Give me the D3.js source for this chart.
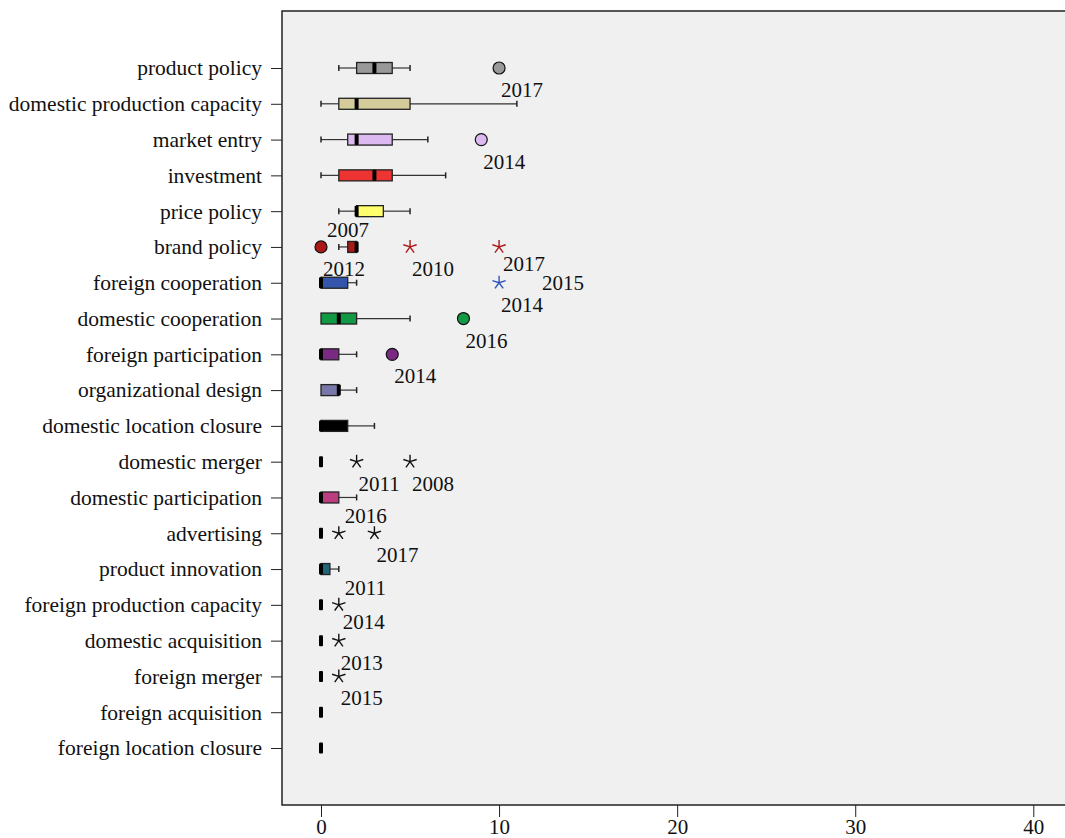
<!DOCTYPE html>
<html>
<head>
<meta charset="utf-8">
<script src="https://cdn.jsdelivr.net/npm/d3@7"></script>
<style>
  body { margin: 0; background: #fff; }
  svg text { font-family: "Liberation Serif", "Times New Roman", serif; fill: #111; }
</style>
</head>
<body>
<div id="chart"></div>
<script>
// categories, top to bottom
const categories = [
  "product policy", "domestic production capacity", "market entry", "investment",
  "price policy", "brand policy", "foreign cooperation", "domestic cooperation",
  "foreign participation", "organizational design", "domestic location closure",
  "domestic merger", "domestic participation", "advertising", "product innovation",
  "foreign production capacity", "domestic acquisition", "foreign merger",
  "foreign acquisition", "foreign location closure"
];
// box statistics
const whiskerLow  = [1, 0, 0,   0, 1,   1,   0,   0, 0, 0, 0,   0, 0, 0, 0,   0, 0, 0, 0, 0];
const q1          = [2, 1, 1.5, 1, 2,   1.5, 0,   0, 0, 0, 0,   0, 0, 0, 0,   0, 0, 0, 0, 0];
const median      = [3, 2, 2,   3, 2,   2,   0,   1, 0, 1, 0,   0, 0, 0, 0,   0, 0, 0, 0, 0];
const q3          = [4, 5, 4,   4, 3.5, 2,   1.5, 2, 1, 1, 1.5, 0, 1, 0, 0.5, 0, 0, 0, 0, 0];
const whiskerHigh = [5, 11, 6,  7, 5,   2,   2,   5, 2, 2, 3,   0, 2, 0, 1,   0, 0, 0, 0, 0];

// outliers (circle) and extremes (star) with year labels
const outliers = [
  {cat: "product policy", value: 10, kind: "circle", labels: [["2017", "below"]]},
  {cat: "market entry", value: 9, kind: "circle", labels: [["2014", "below"]]},
  {cat: "brand policy", value: 0, kind: "circle", labels: [["2007", "above"], ["2012", "below"]]},
  {cat: "brand policy", value: 5, kind: "star", labels: [["2010", "below"]]},
  {cat: "brand policy", value: 10, kind: "star", labels: [["2017", "near"]]},
  {cat: "foreign cooperation", value: 10, kind: "star", labels: [["2014", "below"], ["2015", "right"]]},
  {cat: "domestic cooperation", value: 8, kind: "circle", labels: [["2016", "below"]]},
  {cat: "foreign participation", value: 4, kind: "circle", labels: [["2014", "below"]]},
  {cat: "domestic merger", value: 2, kind: "star", labels: [["2011", "below"]]},
  {cat: "domestic merger", value: 5, kind: "star", labels: [["2008", "below"]]},
  {cat: "advertising", value: 1, kind: "star", labels: [["2016", "above"]]},
  {cat: "advertising", value: 3, kind: "star", labels: [["2017", "below"]]},
  {cat: "foreign production capacity", value: 1, kind: "star", labels: [["2011", "above"], ["2014", "near"]]},
  {cat: "domestic acquisition", value: 1, kind: "star", labels: [["2013", "below"]]},
  {cat: "foreign merger", value: 1, kind: "star", labels: [["2015", "below"]]}
];
const xTicks = [0, 10, 20, 30, 40];

// styles
const boxColors = ["#999999", "#d4cc9a", "#dcb9f0", "#ee3333", "#ffff6e", "#aa1818",
  "#3355aa", "#119944", "#7a2a82", "#7777aa", "#000000", "#000000", "#bb3d80",
  "#000000", "#226677", "#000000", "#000000", "#000000", "#000000", "#000000"];
const markColor = {"brand policy": "#aa1818", "foreign cooperation": "#3355bb"};
const labelOffset = {below: [2, 22], near: [4, 17], above: [6, -17], right: [43, 0]};

const W = 1065, H = 838;
const frame = {left: 282, top: 11, bottom: 805};

const svg = d3.select("#chart").append("svg")
  .attr("width", W).attr("height", H);

const x = d3.scaleLinear().domain([0, 40]).range([321, 1033.3]);
const y = d3.scalePoint().domain(categories).range([68, 748]);

svg.append("rect")
  .attr("x", frame.left).attr("y", frame.top)
  .attr("width", 900).attr("height", frame.bottom - frame.top)
  .attr("fill", "#f0f0f0")
  .attr("stroke", "#222").attr("stroke-width", 1.5);

// axes
const xAxis = d3.axisBottom(x).tickValues(xTicks).tickSize(12).tickSizeOuter(0);
const gx = svg.append("g").attr("transform", `translate(0,${frame.bottom})`).call(xAxis);
gx.select(".domain").remove();
gx.selectAll("line").attr("stroke", "#222");
gx.selectAll("text").attr("font-size", 21).attr("y", 14).attr("dy", "0.71em")
  .attr("font-family", "Liberation Serif, serif").attr("fill", "#111");

const yAxis = d3.axisLeft(y).tickSize(11).tickPadding(9).tickSizeOuter(0);
const gy = svg.append("g").attr("transform", `translate(${frame.left},0)`).call(yAxis);
gy.select(".domain").remove();
gy.selectAll("line").attr("stroke", "#222");
gy.selectAll("text").attr("font-size", 21.5)
  .attr("font-family", "Liberation Serif, serif").attr("fill", "#111");

// boxes
const boxH = 11, capH = 5;
const rows = categories.map((c, i) => ({
  cat: c, lo: whiskerLow[i], q1: q1[i], med: median[i], q3: q3[i], hi: whiskerHigh[i], color: boxColors[i]
}));

const g = svg.append("g");
const row = g.selectAll("g.row").data(rows).enter().append("g")
  .attr("transform", d => `translate(0,${y(d.cat)})`);

row.filter(d => d.hi > d.lo).each(function(d) {
  const s = d3.select(this);
  s.append("line").attr("x1", x(d.lo)).attr("x2", x(d.q1)).attr("stroke", "#333").attr("stroke-width", 1.2);
  s.append("line").attr("x1", x(d.q3)).attr("x2", x(d.hi)).attr("stroke", "#333").attr("stroke-width", 1.2);
  if (d.lo < d.q1) s.append("line").attr("x1", x(d.lo)).attr("x2", x(d.lo)).attr("y1", -capH / 2 - 0.5).attr("y2", capH / 2 + 0.5).attr("stroke", "#222").attr("stroke-width", 1.5);
  if (d.hi > d.q3) s.append("line").attr("x1", x(d.hi)).attr("x2", x(d.hi)).attr("y1", -capH / 2 - 0.5).attr("y2", capH / 2 + 0.5).attr("stroke", "#222").attr("stroke-width", 1.5);
});

row.filter(d => d.q3 > d.q1).append("rect")
  .attr("x", d => x(d.q1)).attr("width", d => x(d.q3) - x(d.q1))
  .attr("y", -boxH / 2).attr("height", boxH)
  .attr("fill", d => d.color).attr("stroke", "#222").attr("stroke-width", 1.3);

row.append("rect")
  .attr("x", d => x(d.med) - 2).attr("width", 4)
  .attr("y", -boxH / 2).attr("height", boxH)
  .attr("rx", 1)
  .attr("fill", "#000");

// outliers
const star = (r) => {
  let p = "";
  for (let k = 0; k < 5; k++) {
    const a = -Math.PI / 2 + k * 2 * Math.PI / 5;
    p += `M0,0L${(r * Math.cos(a)).toFixed(2)},${(r * Math.sin(a)).toFixed(2)}`;
  }
  return p;
};

const pts = g.selectAll("g.out").data(outliers).enter().append("g")
  .attr("transform", d => `translate(${x(d.value)},${y(d.cat)})`);

pts.filter(d => d.kind === "circle").append("circle")
  .attr("r", 6)
  .attr("fill", d => boxColors[categories.indexOf(d.cat)])
  .attr("stroke", "#111").attr("stroke-width", 1.2);

pts.filter(d => d.kind === "star").append("path")
  .attr("d", star(7))
  .attr("fill", "none")
  .attr("stroke", d => markColor[d.cat] || "#111")
  .attr("stroke-width", 1.4);

pts.selectAll("text").data(d => d.labels).enter().append("text")
  .attr("x", l => labelOffset[l[1]][0])
  .attr("y", l => labelOffset[l[1]][1] + 7)
  .attr("font-size", 21)
  .text(l => l[0]);
</script>
</body>
</html>
